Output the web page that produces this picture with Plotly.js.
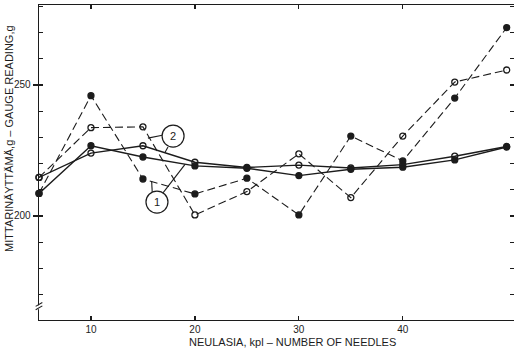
<!DOCTYPE html>
<html>
<head>
<meta charset="utf-8">
<script src="https://cdn.plot.ly/plotly-3.0.1.min.js"></script>
<style>html,body{margin:0;padding:0;background:#fff;}#chart{width:514px;height:355px;}</style>
</head>
<body>
<div id="chart"></div>
<script>
// Number of needles
const needles = [5, 10, 15, 20, 25, 30, 35, 40, 45, 50];
// Series 1 (filled markers): individual readings (dashed) and smoothed (solid)
const s1Dashed = [208.6, 245.9, 214.1, 208.4, 214.4, 200.4, 230.5, 221.0, 245.0, 271.9];
const s1Solid  = [208.6, 226.8, 222.5, 219.1, 218.2, 215.4, 217.8, 218.6, 221.4, 226.3];
// Series 2 (open markers)
const s2Dashed = [214.7, 233.7, 234.0, 200.4, 209.3, 223.7, 207.0, 230.5, 251.1, 255.7];
const s2Solid  = [214.7, 224.0, 226.8, 220.5, 218.5, 219.4, 218.3, 219.6, 222.8, 226.5];
// Axis ticks
const xTicks = [10, 20, 30, 40];
const yLabelTicks = [200, 250];
const xTitle = "NEULASIA, kpl \u2013 NUMBER OF NEEDLES";
const yTitle = "MITTARINÄYTTÄMÄ,g \u2013 GAUGE READING,g";

const ink = '#1c1c1c';
const FONT = '"Liberation Sans", Arial, sans-serif';

function tr(y, dashed, filled) {
  return {
    x: needles, y: y, type: 'scatter', mode: 'lines+markers', cliponaxis: false,
    line: {color: ink, width: dashed ? 1.1 : 1.4, dash: dashed ? '8px,4px' : 'solid'},
    marker: {symbol: filled ? 'circle' : 'circle-open', size: filled ? 6 : 6,
             color: ink, line: {color: ink, width: 1.3}},
    showlegend: false, hoverinfo: 'skip'
  };
}

const traces = [
  tr(s1Dashed, true, true),
  tr(s2Dashed, true, false),
  tr(s1Solid, false, true),
  tr(s2Solid, false, false),
  {x: needles, y: s1Solid, xaxis: 'x', yaxis: 'y2', type: 'scatter', mode: 'none',
   showlegend: false, hoverinfo: 'skip'}
];

const yr = [160.3, 280.5];
const circ = (cx, cy) => ({type: 'circle', xref: 'x', yref: 'y', xsizemode: 'pixel', ysizemode: 'pixel',
  xanchor: cx, yanchor: cy, x0: -11, x1: 11, y0: -11, y1: 11,
  line: {color: ink, width: 1.2}, fillcolor: '#fff'});
const seg = (x0, y0, x1, y1) => ({type: 'line', xref: 'x', yref: 'y', x0: x0, y0: y0, x1: x1, y1: y1,
  line: {color: ink, width: 1.1}});

const layout = {
  width: 514, height: 355,
  margin: {l: 39, r: 0, t: 5, b: 35},
  paper_bgcolor: '#fff', plot_bgcolor: '#fff',
  font: {family: FONT, size: 10, color: ink},
  xaxis: {
    range: [5, 50.7], tickvals: xTicks, ticks: 'inside', ticklen: 4, tickcolor: ink, tickwidth: 1.2,
    showline: true, linecolor: ink, linewidth: 1.4, mirror: 'ticks', showgrid: false, zeroline: false,
    tickfont: {family: FONT, size: 10, color: ink}
  },
  yaxis: {
    range: yr, tickvals: yLabelTicks, ticks: 'outside', ticklen: 5, tickcolor: ink, tickwidth: 1.2,
    showline: true, linecolor: ink, linewidth: 1.4, showgrid: false, zeroline: false,
    minor: {tick0: 0, dtick: 10, ticks: 'inside', ticklen: 4, tickcolor: ink, tickwidth: 1.2, showgrid: false},
    tickfont: {family: FONT, size: 10, color: ink}
  },
  yaxis2: {
    range: yr, overlaying: 'y', side: 'right', anchor: 'x', tick0: 0, dtick: 10,
    ticks: 'inside', ticklen: 4, tickcolor: ink, tickwidth: 1.2, showticklabels: false,
    showline: true, linecolor: ink, linewidth: 1.4, showgrid: false, zeroline: false
  },
  shapes: [
    // callouts for 2
    seg(15.48, 229.7, 16.86, 230.8),
    seg(17.41, 226.3, 17.12, 224.2),
    // callouts for 1
    seg(15.9, 208.6, 15.84, 213.1),
    seg(16.93, 208.8, 19.05, 219.7),
    circ(17.9, 230.5),
    circ(16.35, 205.3),
    // axis break marks
    {type: 'rect', xref: 'paper', yref: 'y', x0: -0.004, x1: 0.004, y0: 164.4, y1: 165.9,
     line: {width: 0}, fillcolor: '#fff'},
    {type: 'line', xref: 'paper', yref: 'y', x0: -0.007, x1: 0.007, y0: 164.2, y1: 165.7, line: {color: ink, width: 1.1}},
    {type: 'line', xref: 'paper', yref: 'y', x0: -0.007, x1: 0.007, y0: 164.9 - 0.3, y1: 166.4 - 0.3, line: {color: ink, width: 0}},
    {type: 'line', xref: 'paper', yref: 'y', x0: -0.007, x1: 0.007, y0: 165.5, y1: 167.0, line: {color: ink, width: 1.1}}
  ],
  annotations: [
    {text: '2', x: 17.9, y: 230.5, xref: 'x', yref: 'y', showarrow: false, font: {family: FONT, size: 11, color: ink}},
    {text: '1', x: 16.35, y: 205.3, xref: 'x', yref: 'y', showarrow: false, font: {family: FONT, size: 11, color: ink}},
    {text: xTitle, xref: 'paper', yref: 'paper', x: 0.533, y: -0.07, showarrow: false,
     xanchor: 'center', yanchor: 'middle', font: {family: FONT, size: 11, color: ink}},
    {text: yTitle, xref: 'paper', yref: 'paper', x: -0.063, y: 0.575, showarrow: false, textangle: -90,
     xanchor: 'center', yanchor: 'middle', font: {family: FONT, size: 11, color: ink}}
  ]
};

Plotly.newPlot('chart', traces, layout, {staticPlot: true, displayModeBar: false});
</script>
</body>
</html>
